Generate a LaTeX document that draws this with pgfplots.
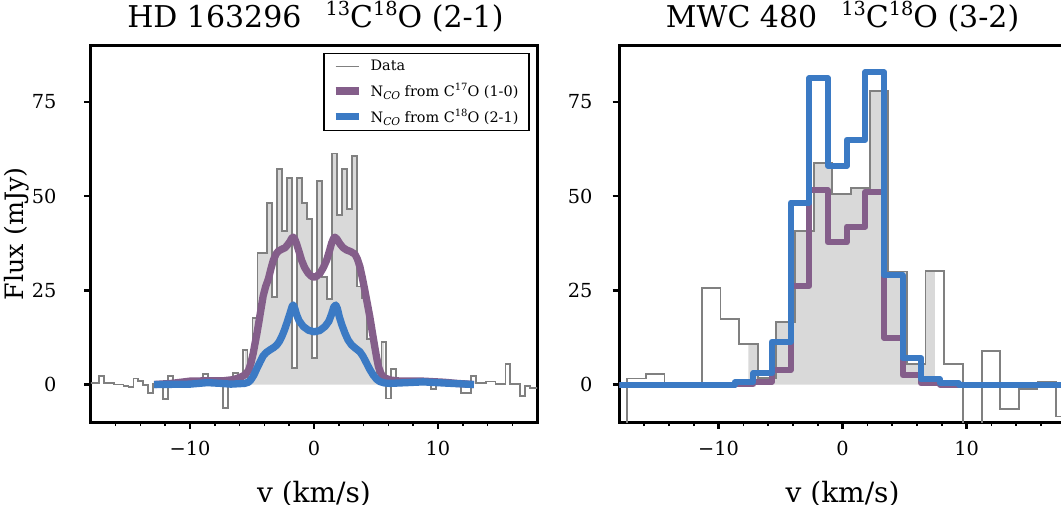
\documentclass[border=0pt]{standalone}
\usepackage{pgfplots}
\pgfplotsset{compat=1.18}
\usepackage{pgfplotstable}
\usepackage{fontspec}
\setmainfont{DejaVu Serif}
\definecolor{mpurple}{RGB}{132,94,138}
\definecolor{mblue}{RGB}{59,122,196}
\definecolor{dgray}{RGB}{128,128,128}
\definecolor{fgray}{RGB}{217,217,217}

% HD 163296 data (left edges of channels)
\pgfplotstableread{
x y
-18.16 0.5
-17.76 0.5
-17.36 2.3
-16.96 0.3
-16.56 0.3
-16.16 0.0
-15.76 0.0
-15.36 -0.4
-14.96 -0.6
-14.56 1.6
-14.16 1.0
-13.76 -0.1
-13.36 -2.2
-12.96 0.1
-12.56 0.1
-12.16 -3.9
-11.76 2.3
-11.36 0.5
-10.96 0.3
-10.56 -0.2
-10.16 0.5
-9.76 0.8
-9.36 0.2
-8.96 2.8
-8.56 0.5
-8.16 0.0
-7.76 0.3
-7.36 -6.3
-6.96 0.5
-6.56 3.1
-6.16 0.8
-5.76 9.1
-5.36 2.0
-4.96 17.7
-4.56 35.0
-4.16 35.0
-3.76 48.1
-3.36 23.3
-2.96 57.1
-2.56 40.7
-2.16 54.7
-1.76 4.4
-1.36 54.7
-0.96 48.2
-0.56 44.0
-0.16 7.1
0.24 54.0
0.64 28.6
1.04 22.7
1.44 61.3
1.84 45.1
2.24 57.3
2.64 46.5
3.04 60.6
3.44 26.0
3.84 23.0
4.24 12.0
4.64 11.0
5.04 2.0
5.44 11.4
5.84 -3.7
6.24 4.2
6.64 0.3
7.04 0.5
7.44 0.2
7.84 0.6
8.24 0.3
8.64 0.5
9.04 0.4
9.44 -1.3
9.84 0.5
10.24 0.3
10.64 0.2
11.04 0.4
11.44 0.1
11.84 -2.2
12.24 -2.2
12.64 2.3
13.04 0.5
13.44 0.5
13.84 0.8
14.24 0.8
14.64 0.1
15.04 0.1
15.44 5.4
15.84 0.1
16.24 0.1
16.64 -3.1
17.04 -0.5
17.44 -1.0
17.84 -1.0
18.24 -1.0
}\hddata

\pgfplotstableread{
x y
-5.56 0
-5.56 9.1
-5.36 2.0
-4.96 17.7
-4.56 35.0
-4.16 35.0
-3.76 48.1
-3.36 23.3
-2.96 57.1
-2.56 40.7
-2.16 54.7
-1.76 4.4
-1.36 54.7
-0.96 48.2
-0.56 44.0
-0.16 7.1
0.24 54.0
0.64 28.6
1.04 22.7
1.44 61.3
1.84 45.1
2.24 57.3
2.64 46.5
3.04 60.6
3.44 26.0
3.84 23.0
4.24 12.0
4.64 11.0
5.04 2.0
5.44 11.4
5.64 11.4
5.64 0
}\hdfill

\pgfplotstableread{
x y
-12.9 0.0
-11.5 0.3
-10.0 0.9
-8.5 1.0
-7.3 1.0
-6.5 1.3
-5.95 1.9
-5.6 2.5
-5.3 3.6
-5.1 5.5
-4.9 8.3
-4.75 11
-4.6 13.6
-4.45 16.5
-4.3 19.5
-4.1 23.5
-3.9 26
-3.68 28
-3.45 31
-3.28 33
-3.05 34.7
-2.87 35.4
-2.6 35.9
-2.33 36.3
-2.1 37.2
-1.93 38.0
-1.8 38.8
-1.67 39.1
-1.55 38.6
-1.4 37.3
-1.2 35.2
-1.0 33.0
-0.75 31.0
-0.46 29.5
-0.2 28.7
0 28.5
0.2 28.7
0.48 29.5
0.75 31
1.02 33.0
1.25 35.5
1.42 37.5
1.58 38.8
1.69 39.1
1.85 38.6
2.1 37.3
2.35 36.3
2.63 35.7
2.95 35.3
3.3 34.6
3.5 33.3
3.7 31.3
3.9 28.3
4.1 25
4.3 21.5
4.5 18
4.7 14
4.9 10
5.05 7.2
5.2 4.7
5.4 2.9
5.6 1.9
6.13 1.2
7.0 0.9
8.8 0.9
10.5 0.6
11.5 0.3
12.9 0.0
}\hdpurple

\pgfplotstableread{
x y
-12.9 0
-10 0.1
-8.6 0.5
-7.5 0.3
-6.7 0.1
-5.6 0.3
-5.3 0.6
-5.1 1.2
-4.85 2.5
-4.6 4.3
-4.35 6.0
-4.1 7.6
-3.85 8.5
-3.55 9.2
-3.25 9.8
-3.0 10.5
-2.8 11.4
-2.6 12.7
-2.4 14.3
-2.2 16.2
-2.0 18.2
-1.85 19.8
-1.75 20.8
-1.67 21.1
-1.55 20.2
-1.4 18.5
-1.2 16.9
-0.86 15.4
-0.45 14.4
0 14.0
0.45 14.3
0.89 15.4
1.2 16.8
1.42 18.7
1.6 20.6
1.75 21.1
1.88 20.2
2.04 18.0
2.25 15.8
2.5 13.6
2.75 11.8
3.03 10.5
3.35 9.6
3.7 8.7
3.95 7.5
4.25 5.6
4.5 4.0
4.78 2.5
5.05 1.4
5.3 0.8
5.7 0.4
6.13 0.3
7.5 0.5
8.8 0.7
10.5 0.4
12.9 0
}\hdblue

% MWC 480
\pgfplotstableread{
x y
-18.87 -14
-17.37 1.6
-15.87 2.8
-14.36 0.2
-12.86 0.2
-11.35 25.7
-9.85 17.4
-8.35 10.7
-6.84 1.8
-5.34 16.6
-3.83 40.8
-2.33 58.7
-0.83 50.6
0.68 52.2
2.18 77.9
3.69 30.0
5.19 5.4
6.69 30.2
8.20 5.4
9.70 -14
11.21 8.9
12.71 -6.4
14.22 -1.2
15.72 0.8
17.22 -8.5
18.73 -8.5
}\mwcdata

\pgfplotstableread{
x y
-7.59 0
-7.59 10.7
-6.84 1.8
-5.34 16.6
-3.83 40.8
-2.33 58.7
-0.83 50.6
0.68 52.2
2.18 77.9
3.69 30.0
5.19 5.4
6.69 30.2
7.45 30.2
7.45 0
}\mwcfill

\pgfplotstableread{
x y
-18.8 0
-8.70 0.05
-7.19 0.75
-5.69 3.8
-4.18 26.2
-2.68 51.6
-1.18 37.7
0.33 41.9
1.83 51.2
3.34 12.4
4.84 2.5
6.34 0.3
7.85 0
18.8 0
}\mwcpurple

\pgfplotstableread{
x y
-18.8 -0.1
-8.70 0.6
-7.19 3.0
-5.69 11.4
-4.18 48.3
-2.68 81.3
-1.18 58.0
0.33 64.9
1.83 82.9
3.34 29.0
4.84 7.0
6.34 1.4
7.85 0.3
9.35 0
18.8 0
}\mwcblue

\newcommand{\tsup}[1]{\raisebox{8.5pt}{\fontsize{14.5}{14.5}\selectfont #1}}
\newcommand{\lsup}[1]{\raisebox{4.2pt}{\fontsize{7.5}{8}\selectfont #1}}
\newcommand{\lsub}{\raisebox{-2.3pt}{\fontsize{8}{8}\selectfont\itshape CO}}

\pgfplotsset{
  spec/.style={
    scale only axis, width=334.8pt, height=282.6pt,
    xmin=-18, xmax=18, ymin=-10, ymax=90,
    xtick={-10,0,10}, xticklabels={−10,0,10},
    minor xtick={-16,-14,-12,-8,-6,-4,-2,2,4,6,8,12,14,16},
    ytick={0,25,50,75}, yticklabels={0,25,50,75},
    tick pos=left, tick align=outside,
    major tick length=5pt, minor tick length=3pt,
    major tick style={line width=1.8pt, black},
    minor tick style={line width=1.3pt, black},
    separate axis lines,
    axis line style={line width=2.2pt, line cap=rect},
    tick label style={font=\fontsize{14.5}{18}\selectfont, inner sep=0pt},
    xticklabel style={yshift=-9pt},
    label style={font=\fontsize{21}{25}\selectfont},
    title style={font=\fontsize{22.5}{25}\selectfont, inner sep=0pt, yshift=-6pt},
    xlabel={v (km/s)},
    xlabel style={at={(axis description cs:0.5,-0.2144)}, anchor=base},
    clip=true,
  },
}

\begin{document}
\begin{tikzpicture}
\begin{axis}[spec, at={(68.1pt,61.35pt)}, anchor=south west,
  yticklabel style={xshift=-20.5pt},
  ylabel={Flux (mJy)},
  ylabel style={at={(axis description cs:-0.1653,0.5)}, anchor=center, font=\fontsize{19}{22}\selectfont},
  title={HD 163296\hspace{0.8em}\tsup{13}C\tsup{18}O (2-1)},
  title style={at={(axis description cs:0.0811,1.0488)}, anchor=base west},
  legend style={at={(rel axis cs:1,1)}, anchor=north east, xshift=-5.6pt, yshift=-5.6pt,
    draw=black, line width=1pt, font=\fontsize{10.8}{12}\selectfont,
    inner xsep=6pt, inner ysep=3pt, row sep=4pt, cells={anchor=west},
    /tikz/every odd column/.append style={column sep=4pt}},
  legend image code/.code={\draw[#1] (0pt,0pt) -- (17.5pt,0pt);},
]
\addplot[const plot, fill=fgray, draw=none, forget plot] table {\hdfill};
\addplot[const plot, color=dgray, line width=1.4pt] table {\hddata};
\addplot[color=mpurple, line width=5.5pt, line join=round] table {\hdpurple};
\addplot[color=mblue, line width=5.5pt, line join=round] table {\hdblue};
\addlegendentry{Data}
\addlegendentry{N\lsub{} from C\lsup{17}O (1-0)}
\addlegendentry{N\lsub{} from C\lsup{18}O (2-1)}
\end{axis}

\begin{axis}[spec, at={(464.55pt,61.35pt)}, anchor=south west,
  yticklabel style={xshift=-15pt},
  title={MWC 480\hspace{0.8em}\tsup{13}C\tsup{18}O (3-2)},
  title style={at={(axis description cs:0.5,1.0488)}, anchor=base},
]
\addplot[const plot, fill=fgray, draw=none] table {\mwcfill};
\addplot[const plot, color=dgray, line width=1.4pt] table {\mwcdata};
\addplot[const plot, color=mpurple, line width=4.5pt, line join=round] table {\mwcpurple};
\addplot[const plot, color=mblue, line width=4.5pt, line join=round] table {\mwcblue};
\end{axis}
\pgfresetboundingbox
\useasboundingbox (0,0) rectangle (795.75pt,378pt);
\end{tikzpicture}
\end{document}
